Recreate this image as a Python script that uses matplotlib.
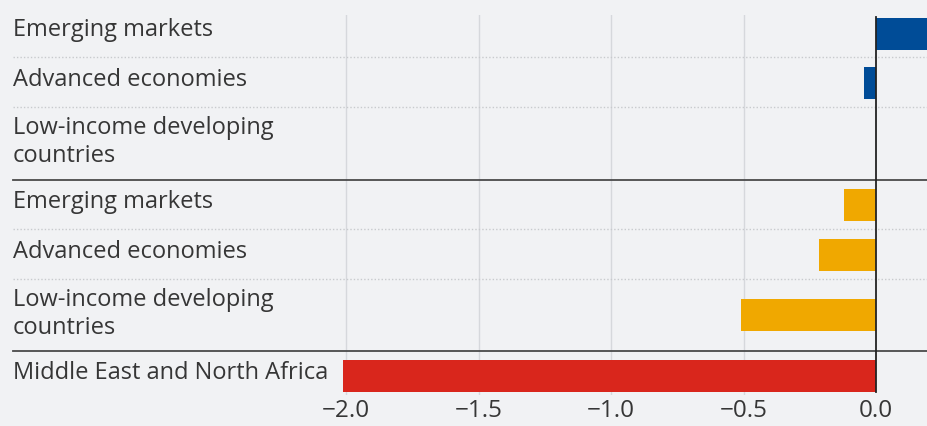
import matplotlib
matplotlib.use("Agg")
import matplotlib.pyplot as plt
import matplotlib.transforms as mtransforms

# data
blue_labels = ['Emerging markets', 'Advanced economies', 'Low-income developing\ncountries']
blue_values = [0.25, -0.045, 0.0]
yellow_labels = ['Emerging markets', 'Advanced economies', 'Low-income developing\ncountries']
yellow_values = [-0.12, -0.215, -0.51]
red_labels = ['Middle East and North Africa']
red_values = [-2.01]
xticks = [-2.0, -1.5, -1.0, -0.5, 0.0]

# row layout (vertical positions, top to bottom)
blue_pos = [33.5, 83, 143]
yellow_pos = [205, 255, 315]
red_pos = [376]
dotted_seps = [57, 107, 229, 279]
solid_seps = [180, 351]

bg = '#f1f2f4'
txt = '#363636'
plt.rcParams['font.family'] = ['Open Sans', 'DejaVu Sans']

fig = plt.figure(figsize=(9.28, 4.26), dpi=100, facecolor=bg)
ax = fig.add_axes([0, 31 / 426, 1, 380 / 426], facecolor=bg)
ax.set_xlim(-3.306, 0.196)
ax.set_ylim(395, 15)

for s in ax.spines.values():
    s.set_visible(False)
ax.set_yticks([])
ax.set_xticks(xticks)
ax.set_xticklabels(['\u2212{:.1f}'.format(abs(t)) if t < 0 else '{:.1f}'.format(t) for t in xticks],
                   fontsize=17.5, color=txt)
ax.tick_params(axis='x', length=0, pad=3)

# vertical gridlines
for t in xticks[:-1]:
    ax.axvline(t, color='#d6d8dc', lw=1.0, zorder=0)

trans = mtransforms.blended_transform_factory(ax.transAxes, ax.transData)
x0 = 13 / 928
for y in dotted_seps:
    ax.plot([x0, 1], [y, y], transform=trans, color='#c8cacd', lw=1.0, ls=(0, (1, 1.5)), zorder=1)
for y in solid_seps:
    ax.plot([x0, 1], [y, y], transform=trans, color='#4a4a4a', lw=1.3, zorder=3)

h = 32
ax.barh(blue_pos, blue_values, height=h, color='#004c97', zorder=2)
ax.barh(yellow_pos, yellow_values, height=h, color='#f0a800', zorder=2)
ax.barh(red_pos, red_values, height=h, color='#d9261c', zorder=2)

# zero line
ax.plot([0, 0], [17, 392], color='#222222', lw=1.3, zorder=4)

for labels, pos in [(blue_labels, blue_pos), (yellow_labels, yellow_pos), (red_labels, red_pos)]:
    for lab, y in zip(labels, pos):
        dy = -1 if '\n' in lab else -3
        ax.text(x0, y + dy, lab, transform=trans, ha='left', va='center',
                fontsize=17, color=txt, linespacing=1.2)

fig.savefig('out.png', dpi=100, facecolor=bg)
